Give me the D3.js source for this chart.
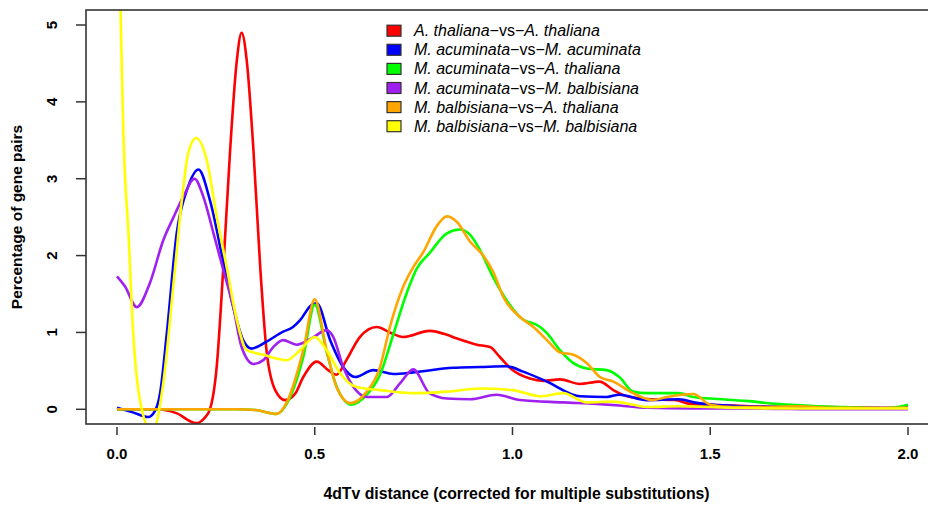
<!DOCTYPE html>
<html><head><meta charset="utf-8">
<script src="https://cdn.jsdelivr.net/npm/d3@7"></script>
<style>body{margin:0;background:#fff}svg{display:block}text{font-family:"Liberation Sans",Arial,sans-serif}</style>
</head><body><svg id="c" width="928" height="507"></svg>
<script>
const seriesNames = [
  ["A. thaliana","A. thaliana"],
  ["M. acuminata","M. acuminata"],
  ["M. acuminata","A. thaliana"],
  ["M. acuminata","M. balbisiana"],
  ["M. balbisiana","A. thaliana"],
  ["M. balbisiana","M. balbisiana"]
];
const seriesColors = ["#FF0000","#0000FF","#00FF00","#A020F0","#FFA500","#FFFF00"];

const redX = [0,0.1,0.15,0.2,0.22,0.235,0.252,0.269,0.286,0.303,0.315,0.328,0.345,0.362,0.378,0.4,0.425,0.45,0.471,0.505,0.534,0.555,0.58,0.614,0.657,0.69,0.723,0.79,0.834,0.86,0.91,0.943,0.968,1.0,1.044,1.078,1.12,1.17,1.22,1.255,1.29,1.35,1.41,1.45,1.5,1.6,1.7,1.8,1.9,1.97,2.0];
const redY = [0,0,-0.05,-0.18,-0.12,0,0.55,1.86,3.37,4.54,4.9,4.54,3.37,1.86,0.77,0.25,0.12,0.2,0.42,0.62,0.51,0.45,0.64,0.94,1.07,1.0,0.94,1.02,0.97,0.92,0.84,0.81,0.68,0.51,0.40,0.37,0.39,0.33,0.36,0.25,0.17,0.13,0.12,0.07,0.06,0.04,0.03,0.03,0.02,0.01,0.03];

const blueX = [0,0.04,0.079,0.095,0.109,0.126,0.151,0.18,0.206,0.235,0.268,0.294,0.319,0.34,0.378,0.42,0.445,0.463,0.492,0.505,0.539,0.572,0.602,0.648,0.699,0.749,0.85,0.918,0.985,1.027,1.087,1.17,1.238,1.27,1.34,1.42,1.47,1.575,1.7,1.8,1.9,2.0];
const blueY = [0.02,-0.04,-0.1,-0.03,0.21,0.99,2.29,2.9,3.12,2.72,1.94,1.33,0.9,0.79,0.88,1.01,1.07,1.16,1.36,1.38,0.9,0.55,0.42,0.51,0.46,0.48,0.54,0.55,0.56,0.49,0.36,0.17,0.16,0.19,0.12,0.13,0.08,0.04,0.03,0.02,0.02,0.02];

const greenX = [0,0.3,0.35,0.404,0.43,0.471,0.5,0.53,0.555,0.593,0.63,0.665,0.699,0.733,0.758,0.79,0.834,0.867,0.893,0.918,0.951,0.985,1.019,1.07,1.087,1.12,1.154,1.188,1.238,1.27,1.305,1.34,1.42,1.457,1.5,1.59,1.668,1.77,1.836,1.94,2.0];
const greenY = [0,0,-0.01,-0.06,0.08,0.68,1.36,0.75,0.3,0.06,0.18,0.45,0.98,1.52,1.83,2.03,2.29,2.34,2.27,2.07,1.72,1.42,1.2,1.07,0.99,0.77,0.6,0.53,0.51,0.42,0.23,0.21,0.21,0.16,0.14,0.11,0.07,0.04,0.03,0.01,0.06];

const purpleX = [0,0.02,0.05,0.083,0.117,0.143,0.168,0.196,0.218,0.244,0.269,0.294,0.315,0.345,0.37,0.395,0.42,0.454,0.497,0.53,0.547,0.572,0.598,0.631,0.682,0.716,0.749,0.79,0.834,0.893,0.96,1.019,1.128,1.213,1.27,1.34,1.45,1.6,1.8,2.0];
const purpleY = [1.73,1.6,1.33,1.64,2.2,2.5,2.77,3.0,2.77,2.29,1.81,1.33,0.81,0.59,0.64,0.81,0.9,0.84,0.94,1.03,0.94,0.55,0.29,0.16,0.16,0.34,0.52,0.21,0.14,0.13,0.19,0.12,0.09,0.07,0.05,0.02,0.01,0.01,0.0,0.0];

const orangeX = [0,0.3,0.35,0.404,0.43,0.471,0.5,0.53,0.555,0.59,0.63,0.665,0.69,0.724,0.749,0.775,0.808,0.834,0.859,0.893,0.926,0.951,0.977,1.019,1.053,1.087,1.12,1.154,1.188,1.221,1.255,1.305,1.355,1.39,1.457,1.5,1.557,1.65,1.726,1.8,1.9,2.0];
const orangeY = [0,0,-0.01,-0.06,0.1,0.77,1.43,0.77,0.29,0.08,0.22,0.55,1.07,1.6,1.85,2.05,2.38,2.51,2.44,2.18,2.0,1.79,1.46,1.2,1.07,0.9,0.74,0.71,0.6,0.42,0.36,0.21,0.12,0.16,0.2,0.06,0.03,0.03,0.04,0.02,0.02,0.02];

const yellowX = [0,0.009,0.016,0.029,0.041,0.058,0.088,0.117,0.143,0.164,0.18,0.2,0.227,0.252,0.277,0.303,0.328,0.37,0.429,0.463,0.5,0.53,0.564,0.606,0.665,0.749,0.834,0.918,1.0,1.07,1.128,1.188,1.255,1.305,1.34,1.42,1.55,1.7,1.85,2.0];
const yellowY = [7.3,5.19,3.6,2.29,0.99,0.12,-0.3,0.34,1.64,2.72,3.33,3.53,3.24,2.51,1.86,1.16,0.77,0.71,0.64,0.77,0.94,0.77,0.47,0.29,0.25,0.21,0.23,0.27,0.25,0.17,0.21,0.09,0.1,0.06,0.03,0.04,0.02,0.01,0.01,0.01];

const xTicks = [0,0.5,1.0,1.5,2.0];
const yTicks = [0,1,2,3,4,5];
const xTitle = "4dTv distance (corrected for multiple substitutions)";
const yTitle = "Percentage of gene pairs";

const seriesX = [redX,blueX,greenX,purpleX,orangeX,yellowX];
const seriesY = [redY,blueY,greenY,purpleY,orangeY,yellowY];

const svg = d3.select("#c");
const box = {l:86, r:939, t:10, b:424};
const x = d3.scaleLinear().domain([0,2]).range([117,908]);
const y = d3.scaleLinear().domain([0,5]).range([409.3,25]);

svg.append("defs").append("clipPath").attr("id","clip")
  .append("rect").attr("x",box.l).attr("y",box.t).attr("width",box.r-box.l).attr("height",box.b-box.t);

const line = d3.line().x(d=>x(d[0])).y(d=>y(d[1])).curve(d3.curveMonotoneX);
const g = svg.append("g").attr("clip-path","url(#clip)");
seriesX.forEach((xs,i)=>{
  const pts = xs.map((v,j)=>[v,seriesY[i][j]]);
  g.append("path").attr("d",line(pts)).attr("fill","none")
   .attr("stroke",seriesColors[i]).attr("stroke-width",2.6).attr("stroke-linejoin","round");
});

svg.append("rect").attr("x",box.l).attr("y",box.t).attr("width",box.r-box.l).attr("height",box.b-box.t)
  .attr("fill","none").attr("stroke","#333").attr("stroke-width",1.6);

const xa = svg.append("g");
xTicks.forEach(t=>{
  xa.append("line").attr("x1",x(t)).attr("x2",x(t)).attr("y1",427).attr("y2",435).attr("stroke","#333").attr("stroke-width",1.5);
  xa.append("text").attr("x",x(t)).attr("y",459).attr("text-anchor","middle")
    .attr("font-size",15).attr("font-weight","bold").text(d3.format(".1f")(t));
});
const ya = svg.append("g");
yTicks.forEach(t=>{
  ya.append("line").attr("x1",76).attr("x2",box.l).attr("y1",y(t)).attr("y2",y(t)).attr("stroke","#333").attr("stroke-width",1.5);
  ya.append("text").attr("transform",`translate(57,${y(t)}) rotate(-90)`).attr("text-anchor","middle")
    .attr("font-size",15).attr("font-weight","bold").text(t);
});
svg.append("text").attr("x",(box.l+box.r)/2+4).attr("y",499).attr("text-anchor","middle")
  .attr("font-size",15.8).attr("font-weight","bold").text(xTitle);
svg.append("text").attr("transform",`translate(22,${(box.t+box.b)/2}) rotate(-90)`).attr("text-anchor","middle")
  .attr("font-size",15.5).attr("font-weight","bold").text(yTitle);

const lg = svg.append("g");
seriesNames.forEach((n,i)=>{
  const cy = 30.7 + i*19.1;
  lg.append("rect").attr("x",387).attr("y",cy-5.5).attr("width",14).attr("height",11)
    .attr("fill",seriesColors[i]).attr("stroke","#333").attr("stroke-width",1.2);
  const t = lg.append("text").attr("x",414).attr("y",cy+5.5).attr("font-size",16);
  t.append("tspan").attr("font-style","italic").text(n[0]);
  t.append("tspan").text("\u2212vs\u2212");
  t.append("tspan").attr("font-style","italic").text(n[1]);
});
</script></body></html>
